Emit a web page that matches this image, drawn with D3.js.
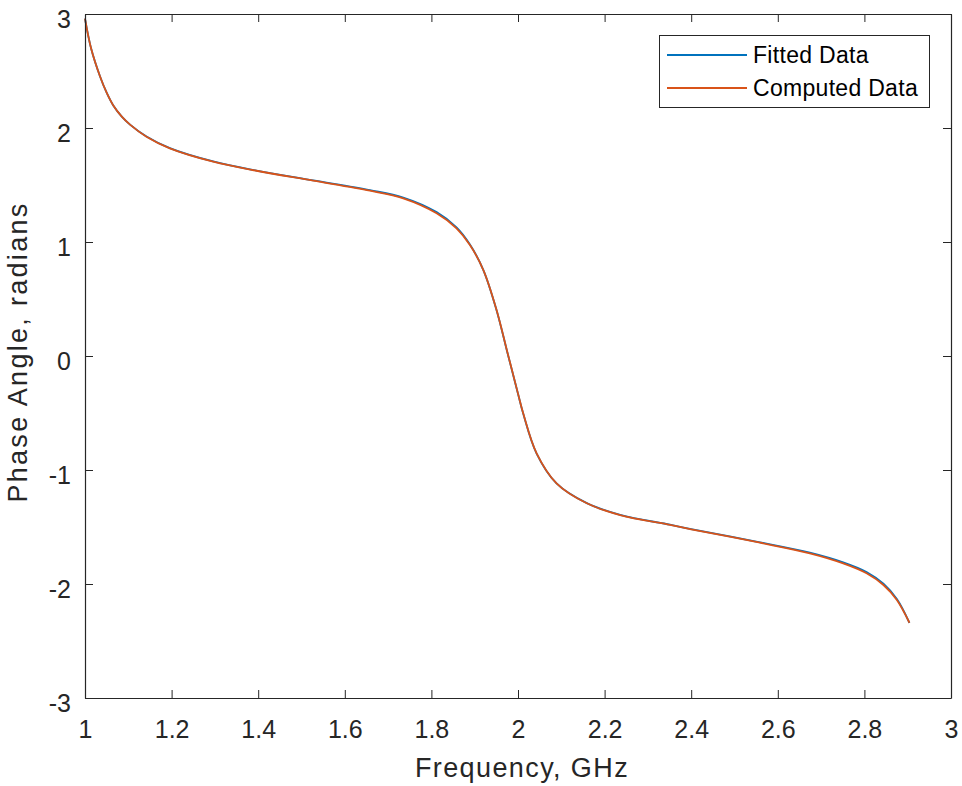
<!DOCTYPE html>
<html>
<head>
<meta charset="utf-8">
<script src="https://cdn.jsdelivr.net/npm/d3@7"></script>
<style>
  html, body { margin: 0; padding: 0; background: #fff; }
  svg { display: block; font-family: "Liberation Sans", Arial, Helvetica, sans-serif; }
</style>
</head>
<body>
<svg id="chart" width="962" height="786"></svg>
<script>
// Frequency samples (GHz)
const frequency = [1.000, 1.014, 1.035, 1.050, 1.065, 1.085, 1.104, 1.142, 1.196, 1.296,
  1.396, 1.527, 1.658, 1.735, 1.812, 1.858, 1.889, 1.920, 1.950, 1.975,
  2.000, 2.012, 2.043, 2.089, 2.159, 2.236, 2.351, 2.400, 2.559, 2.674,
  2.751, 2.805, 2.844, 2.875, 2.904];

// Phase angle of the computed response (radians)
const computedPhase = [2.96, 2.70, 2.45, 2.31, 2.20, 2.10, 2.03, 1.924, 1.822, 1.705,
  1.625, 1.538, 1.450, 1.383, 1.252, 1.120, 0.974, 0.754, 0.410, 0.040,
  -0.330, -0.503, -0.854, -1.117, -1.292, -1.395, -1.482, -1.520, -1.638, -1.731,
  -1.819, -1.906, -2.009, -2.140, -2.340];

// Phase angle of the fitted model (radians)
const fittedPhase = [2.96, 2.70, 2.45, 2.31, 2.20, 2.10, 2.03, 1.926, 1.824, 1.707,
  1.627, 1.541, 1.455, 1.390, 1.262, 1.128, 0.978, 0.754, 0.408, 0.038,
  -0.332, -0.505, -0.856, -1.118, -1.291, -1.393, -1.480, -1.518, -1.634, -1.725,
  -1.810, -1.895, -1.998, -2.132, -2.340];

const xTicks = [1, 1.2, 1.4, 1.6, 1.8, 2, 2.2, 2.4, 2.6, 2.8, 3];
const yTicks = [-3, -2, -1, 0, 1, 2, 3];

const seriesNames = ["Fitted Data", "Computed Data"];
const seriesColors = ["#0072BD", "#D95319"];

const svg = d3.select("#chart");
const plotLeft = 85, plotRight = 951, plotTop = 14, plotBottom = 698;
const axisColor = "#262626";
const fontFamily = "'Liberation Sans', Arial, Helvetica, sans-serif";

const x = d3.scaleLinear().domain([1, 3]).range([plotLeft, plotRight]);
const y = d3.scaleLinear().domain([-3, 3]).range([plotBottom, plotTop]);

// Curves
const line = d3.line()
  .x((d, i) => x(frequency[i]))
  .y(d => y(d))
  .curve(d3.curveCatmullRom.alpha(0.5));

[fittedPhase, computedPhase].forEach((vals, k) => {
  svg.append("path")
    .datum(vals)
    .attr("fill", "none")
    .attr("stroke", seriesColors[k])
    .attr("stroke-width", 1.8)
    .attr("stroke-linejoin", "round")
    .attr("d", line);
});

// Axes (ticks pointing inward, mirrored on top and right)
const tickLen = 8;
const fmt = d => String(d);

const xAxisB = d3.axisBottom(x).tickValues(xTicks).tickSize(-tickLen).tickSizeOuter(0).tickPadding(22).tickFormat(fmt);
const xAxisT = d3.axisTop(x).tickValues(xTicks).tickSize(-tickLen).tickSizeOuter(0).tickFormat("");
const yAxisL = d3.axisLeft(y).tickValues(yTicks).tickSize(-tickLen).tickSizeOuter(0).tickPadding(14).tickFormat(fmt);
const yAxisR = d3.axisRight(y).tickValues(yTicks).tickSize(-tickLen).tickSizeOuter(0).tickFormat("");

function styleAxis(g) {
  g.select(".domain").attr("stroke", axisColor).attr("stroke-width", 1.2);
  g.selectAll(".tick line").attr("stroke", axisColor).attr("stroke-width", 1);
  g.selectAll(".tick text").attr("fill", axisColor).attr("font-size", 25)
    .attr("font-family", fontFamily);
}

svg.append("g").attr("transform", `translate(0,${plotBottom})`).call(xAxisB).call(styleAxis);
svg.append("g").attr("transform", `translate(0,${plotTop})`).call(xAxisT).call(styleAxis);
svg.append("g").attr("transform", `translate(${plotLeft},0)`).call(yAxisL).call(styleAxis)
  .selectAll(".tick text").attr("dy", "0.52em");
svg.append("g").attr("transform", `translate(${plotRight},0)`).call(yAxisR).call(styleAxis);

// Axis labels
svg.append("text")
  .attr("x", (plotLeft + plotRight) / 2 + 4)
  .attr("y", 777)
  .attr("text-anchor", "middle")
  .attr("font-size", 27)
  .attr("letter-spacing", 1.4)
  .attr("fill", axisColor)
  .text("Frequency, GHz");

svg.append("text")
  .attr("transform", `translate(27,352) rotate(-90)`)
  .attr("text-anchor", "middle")
  .attr("font-size", 27)
  .attr("letter-spacing", 2.3)
  .attr("fill", axisColor)
  .text("Phase Angle, radians");

// Legend
const lg = svg.append("g");
lg.append("rect")
  .attr("x", 659.5).attr("y", 35.5)
  .attr("width", 270).attr("height", 72)
  .attr("fill", "#fff")
  .attr("stroke", axisColor)
  .attr("stroke-width", 1);

seriesNames.forEach((name, i) => {
  const cy = 55 + i * 33;
  lg.append("line")
    .attr("x1", 667).attr("x2", 747)
    .attr("y1", cy).attr("y2", cy)
    .attr("stroke", seriesColors[i])
    .attr("stroke-width", 1.8);
  lg.append("text")
    .attr("x", 753).attr("y", cy)
    .attr("dy", "0.36em")
    .attr("font-size", 23)
    .attr("letter-spacing", 0.3)
    .attr("fill", "#000")
    .text(name);
});
</script>
</body>
</html>
